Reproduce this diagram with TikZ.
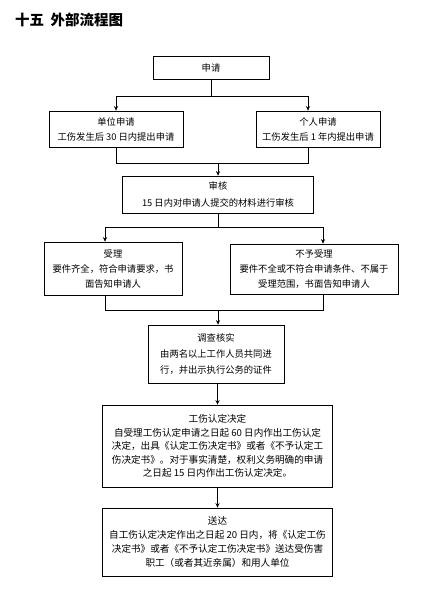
\documentclass[tikz,border=0pt]{standalone}
\usepackage{fontspec}
\setmainfont{Noto Sans CJK SC}
\usetikzlibrary{arrows.meta,calc}
\tikzset{
  box/.style={draw, line width=0.8pt, align=center, inner sep=0pt, font=\fontsize{9.3}{15}\selectfont},
  arr/.style={-{Stealth[length=4.5pt,width=4.2pt]}, line width=0.7pt},
  ln/.style={line width=0.7pt}
}
\begin{document}
\begin{tikzpicture}[x=1pt,y=-1pt]
\useasboundingbox (0,0) rectangle (439,599);
\node[anchor=west, font=\fontsize{14.5}{16}\selectfont\bfseries, inner sep=0pt] (title) at (15,20) {十五\hspace{0.45em}外部流程图};

\node[box, minimum width=116pt, minimum height=23pt] (apply) at (211,67.5) {申请};
\node[box, minimum width=134pt, minimum height=36pt] (unit) at (116,129) {单位申请\\工伤发生后 30 日内提出申请};
\node[box, minimum width=124pt, minimum height=36pt] (pers) at (318,129) {个人申请\\工伤发生后 1 年内提出申请};
\node[box, minimum width=191pt, minimum height=37pt, font=\fontsize{9.3}{17}\selectfont] (review) at (218,194.5) {审核\\15 日内对申请人提交的材料进行审核};
\node[box, minimum width=138pt, minimum height=53pt] (accept) at (113,268.5) {受理\\要件齐全，符合申请要求，书\\面告知申请人};
\node[box, minimum width=168pt, minimum height=50pt] (reject) at (314,269) {不予受理\\要件不全或不符合申请条件、不属于\\受理范围，书面告知申请人};
\node[box, minimum width=136pt, minimum height=58pt, font=\fontsize{9.3}{16}\selectfont] (invest) at (216,354) {调查核实\\由两名以上工作人员共同进\\行，并出示执行公务的证件};
\node[box, minimum width=230pt, minimum height=82pt, font=\fontsize{9.6}{13.4}\selectfont] (decide) at (217.5,446) {工伤认定决定\\自受理工伤认定申请之日起 60 日内作出工伤认定\\决定，出具《认定工伤决定书》或者《不予认定工\\伤决定书》。对于事实清楚，权利义务明确的申请\\之日起 15 日内作出工伤认定决定。};
\node[box, minimum width=230pt, minimum height=68pt, font=\fontsize{9.6}{14}\selectfont] (deliver) at (217.5,542) {送达\\自工伤认定决定作出之日起 20 日内，将《认定工伤\\决定书》或者《不予认定工伤决定书》送达受伤害\\职工（或者其近亲属）和用人单位};

\coordinate (j1) at (211,96);
\draw[ln] (apply.south) -- (j1);
\draw[arr] (j1) -| (unit.north);
\draw[arr] (j1) -| ([xshift=-10pt]pers.north);

\coordinate (j2) at (218,163);
\draw[ln] (unit.south) |- (j2);
\draw[ln] ([xshift=-10pt]pers.south) |- (j2);
\draw[arr] (j2) -- (review.north);

\coordinate (j3) at (218,227);
\draw[ln] (review.south) -- (j3);
\draw[arr] (j3) -| ([xshift=-8pt]accept.north);
\draw[arr] (j3) -| ([xshift=9pt]reject.north);

\coordinate (j4) at (218,310);
\draw[ln] ([xshift=-8pt]accept.south) |- (j4);
\draw[ln] ([xshift=9pt]reject.south) |- (j4);
\draw[arr] (j4) -- (j4 |- invest.north);

\draw[arr] (decide.north |- invest.south) -- (decide.north);
\draw[arr] (decide.south) -- (deliver.north);
\end{tikzpicture}
\end{document}
